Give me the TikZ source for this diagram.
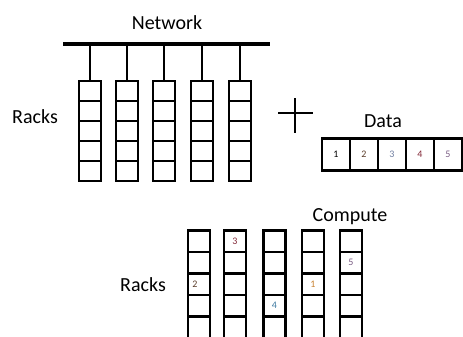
\documentclass[tikz,border=0pt]{standalone}
\usepackage{fontspec}
\setmainfont{Carlito}
\usetikzlibrary{positioning, calc}
\definecolor{numbrown}{RGB}{90,60,40}
\definecolor{numslate}{RGB}{110,125,160}
\definecolor{numred}{RGB}{130,40,55}
\definecolor{numplum}{RGB}{120,90,130}
\definecolor{numteal}{RGB}{60,120,160}
\definecolor{numorange}{RGB}{200,130,50}

\begin{document}
\begin{tikzpicture}[x=1pt, y=-1pt,
        font=\fontsize{20}{24}\selectfont,
        lbl/.style={inner sep=0pt},
        cellA/.style={draw, line width=2.4pt, minimum width=22pt, minimum height=20pt, inner sep=0pt, outer sep=0pt},
        cellB/.style={draw, line width=2.8pt, minimum width=22pt, minimum height=21.5pt, inner sep=0pt, outer sep=0pt},
        slot/.style={draw, line width=2.4pt, minimum width=28pt, minimum height=32pt, inner sep=0pt, outer sep=0pt, font=\fontsize{10}{12}\selectfont},
        num/.style={inner sep=0pt, font=\fontsize{10}{12}\selectfont},
        bus/.style={line width=3.5pt},
        drop/.style={line width=2pt}
    ]
    \useasboundingbox (0,0) rectangle (463,337);
    \clip (0,0) rectangle (463,337);

    % labels
    \node[lbl] (net)    at (167,23)  {Network};
    \node[lbl] (racksA) at (35,117)  {Racks};
    \node[lbl] (data)   at (383,121) {Data};
    \node[lbl] (comp)   at (350,217) {Compute};
    \node[lbl] (racksB) at (143,285) {Racks};

    % network bus and the racks hanging from it
    \coordinate (busL) at (63,44);
    \coordinate (busR) at (270,44);
    \draw[bus] (busL) -- (busR);
    \foreach \i/\x in {1/90,2/127,3/164,4/202,5/240} {
        \node[cellA] (r\i-1) at (\x,91.2) {};
        \foreach \j [evaluate=\j as \k using int(\j-1)] in {2,...,5}
            \node[cellA, below=0pt of r\i-\k] (r\i-\j) {};
        \draw[drop] (busL -| r\i-1.north) -- (r\i-1.north);
    }

    % plus
    \coordinate (plus) at (295,115);
    \draw[line width=2.5pt] (plus) ++(0,-17) -- ++(0,35);
    \draw[line width=2.5pt] (plus) ++(-17,-2) -- ++(35,0);

    % data blocks
    \node[slot] (d1) at (336,154.5) {1};
    \node[slot, right=0pt of d1, text=numbrown] (d2) {2};
    \node[slot, right=0pt of d2, text=numslate] (d3) {3};
    \node[slot, right=0pt of d3, text=numred]   (d4) {4};
    \node[slot, right=0pt of d4, text=numplum]  (d5) {5};

    % compute racks
    \foreach \i/\x in {1/199,2/235,3/274.5,4/313,5/351} {
        \node[cellB] (c\i-1) at (\x,241.2) {};
        \foreach \j [evaluate=\j as \k using int(\j-1)] in {2,...,5}
            \node[cellB, below=0pt of c\i-\k] (c\i-\j) {};
    }
    \node[num, text=numbrown]  (n2) at ([xshift=-4pt]c1-3.center) {2};
    \node[num, text=numred]    (n3) at (c2-1) {3};
    \node[num, text=numteal]   (n4) at (c3-4) {4};
    \node[num, text=numorange] (n1) at (c4-3) {1};
    \node[num, text=numplum]   (n5) at (c5-2) {5};
\end{tikzpicture}
\end{document}
